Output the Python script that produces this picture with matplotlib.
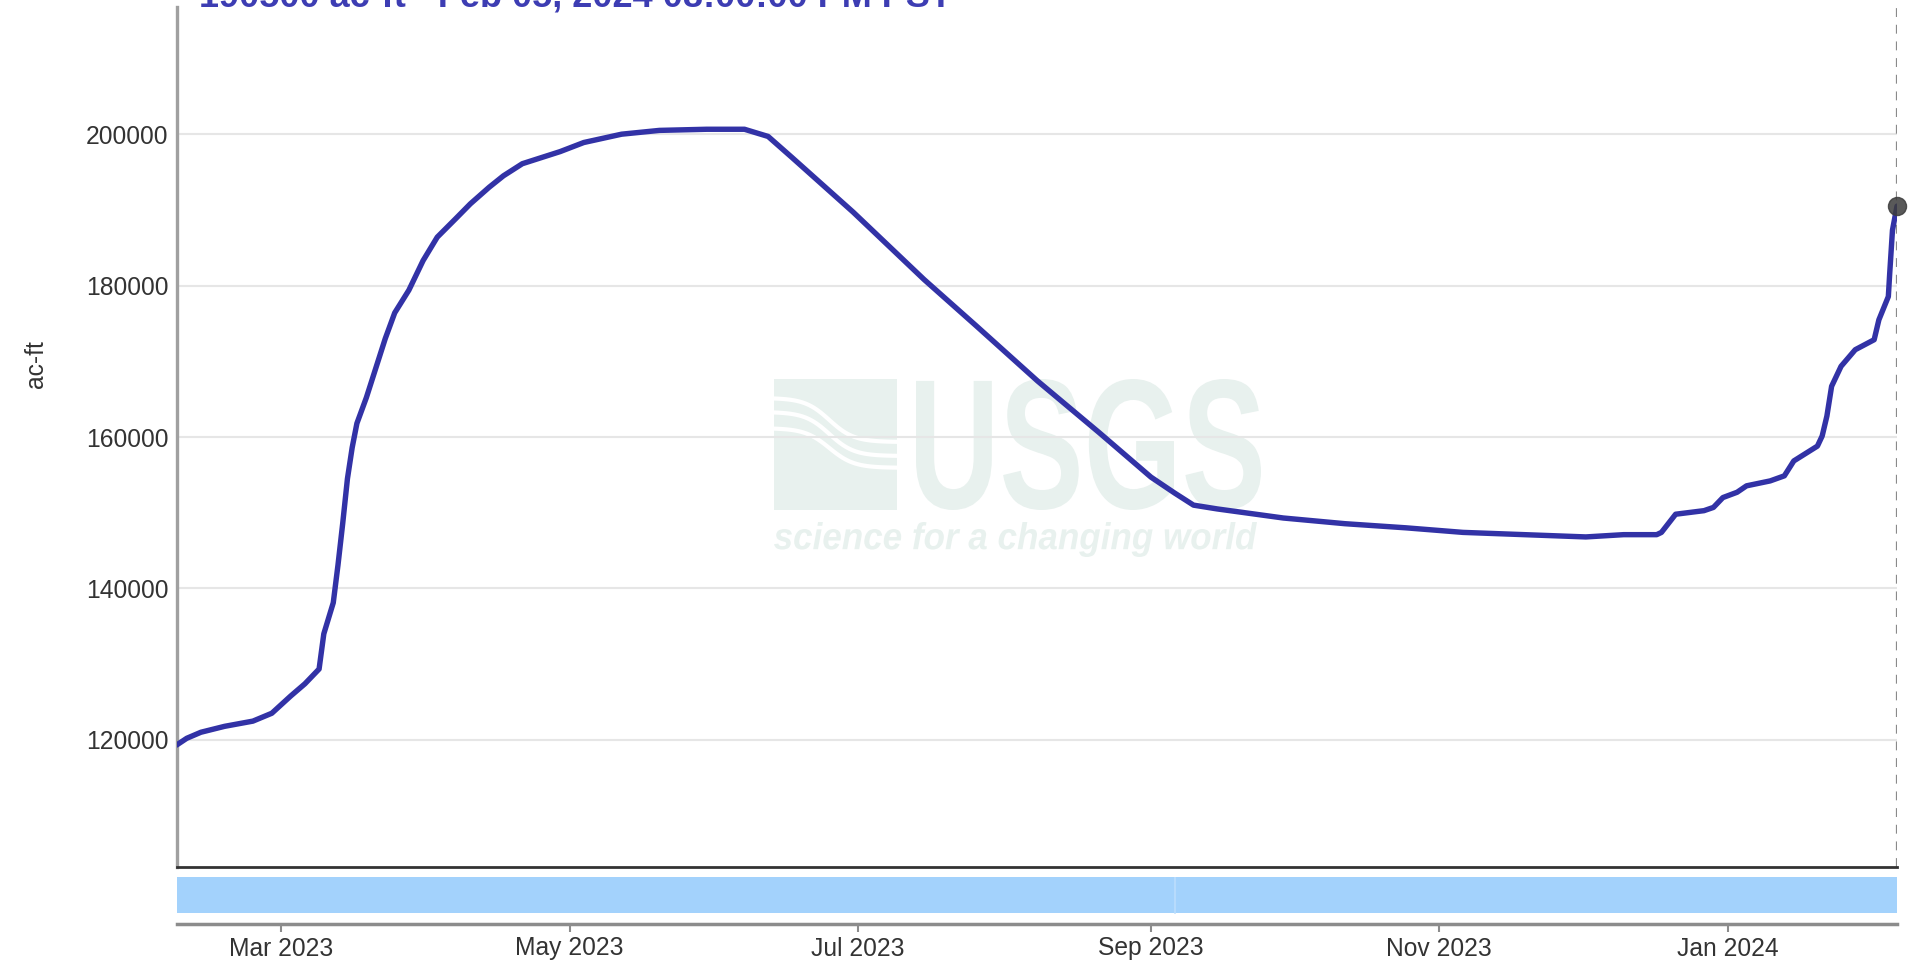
import matplotlib
matplotlib.use('Agg')
import matplotlib.pyplot as plt
import matplotlib.dates as mdates
import numpy as np
import pandas as pd
from matplotlib.textpath import TextPath
from matplotlib.patches import PathPatch, Rectangle
from matplotlib.font_manager import FontProperties
from matplotlib.transforms import Affine2D
from matplotlib.lines import Line2D

plt.rcParams['font.family'] = ['Liberation Sans', 'DejaVu Sans']

# ---------------- data ----------------
dates = [
    "2023-02-06 20:00", "2023-02-09", "2023-02-12", "2023-02-17", "2023-02-23", "2023-02-27",
    "2023-03-03", "2023-03-06", "2023-03-09", "2023-03-10", "2023-03-12", "2023-03-13",
    "2023-03-14", "2023-03-15", "2023-03-16", "2023-03-17", "2023-03-19", "2023-03-21",
    "2023-03-23", "2023-03-25", "2023-03-28", "2023-03-31", "2023-04-03", "2023-04-07",
    "2023-04-10", "2023-04-14", "2023-04-17", "2023-04-21", "2023-04-29", "2023-05-04",
    "2023-05-12", "2023-05-20", "2023-05-30", "2023-06-07", "2023-06-12", "2023-06-17",
    "2023-06-30", "2023-07-15", "2023-07-26", "2023-08-08", "2023-08-21", "2023-09-01",
    "2023-09-06", "2023-09-10", "2023-09-15", "2023-09-29", "2023-10-12", "2023-10-25",
    "2023-11-06", "2023-11-19", "2023-12-02", "2023-12-10", "2023-12-17", "2023-12-18",
    "2023-12-21", "2023-12-27", "2023-12-29", "2023-12-31", "2024-01-03", "2024-01-05",
    "2024-01-10", "2024-01-13", "2024-01-15", "2024-01-20", "2024-01-21", "2024-01-22",
    "2024-01-23", "2024-01-25", "2024-01-28", "2024-02-01", "2024-02-02", "2024-02-04 00:00",
    "2024-02-04 07:00", "2024-02-04 21:00", "2024-02-05 20:00",
]
storage_acft = [
    119300, 120200, 121000, 121780, 122470, 123510,
    125790, 127400, 129350, 134000, 138110, 143100,
    148600, 154500, 158600, 161800, 165200, 169100,
    173000, 176400, 179400, 183300, 186400, 188900,
    190800, 193000, 194500, 196100, 197700, 198900,
    200000, 200500, 200650, 200650, 199700, 196950,
    189700, 180800, 174700, 167400, 160600, 154700,
    152600, 151000, 150500, 149300, 148550, 148000,
    147400, 147100, 146800, 147100, 147100, 147400,
    149800, 150270, 150700, 152000, 152700, 153550,
    154200, 154870, 156840, 158800, 160130, 162760,
    166700, 169340, 171530, 172850, 175480, 178550,
    181620, 187320, 190500,
]
y_ticks = [120000, 140000, 160000, 180000, 200000]
y_range = (103200, 216800)
x_range = ("2023-02-06 20:00", "2024-02-05 20:00")
nav_split = "2023-09-06"
title_text = "190500 ac-ft - Feb 05, 2024 08:00:00 PM PST"
y_label = "ac-ft"

dt = pd.to_datetime(dates, format='mixed')
xr = pd.to_datetime(list(x_range), format='mixed')

# ---------------- figure ----------------
W, H = 1909, 965
fig = plt.figure(figsize=(W / 100, H / 100), dpi=100)
fig.patch.set_facecolor('white')


def fx(px):
    return px / W


def fy(py):
    return 1 - py / H


L, R = 176.5, 1897
ax = fig.add_axes([fx(L), fy(867), fx(R) - fx(L), fy(7) - fy(867)])
ax.patch.set_alpha(0)

# --------------- watermark (decorative) ---------------
wm = '#e8f1ee'


def fit_text(s, prop, x0, x1, ytop, ybot, color):
    tp = TextPath((0, 0), s, size=100, prop=prop)
    bb = tp.get_extents()
    sx = (x1 - x0) / bb.width
    sy = (ybot - ytop) / bb.height
    tr = Affine2D().translate(-bb.x0, -bb.y0).scale(sx, sy).translate(x0, H - ybot)
    p = PathPatch(tr.transform_path(tp), facecolor=color, edgecolor='none', zorder=-5,
                  transform=None)
    fig.add_artist(p)


fit_text("USGS", FontProperties(family='Liberation Sans', weight='bold'), 916, 1261, 379, 510, wm)
fit_text("science for a changing world",
         FontProperties(family='Liberation Sans', weight='bold', style='italic'),
         774, 1257, 522, 557, wm)
logo = Rectangle((774, H - 510), 123, 131, facecolor=wm, edgecolor='none', zorder=-5,
                 transform=None)
fig.add_artist(logo)
tt = np.linspace(0, 1, 60)
for off, amp in [(0, 1.0), (14, 1.0), (28, 0.9)]:
    xs = 774 + 123 * tt
    ys = (H - 420 - off) + 22 * amp * np.tanh((tt - 0.45) * 5) * -1
    fig.add_artist(Line2D(xs, ys, color='white', lw=3, transform=None, zorder=-4))

# ---------------- main plot ----------------
ax.plot(dt, storage_acft, color='#3232a6', lw=3.9, solid_joinstyle='round',
        solid_capstyle='round', zorder=3)
ax.plot(dt[-1:], storage_acft[-1:], marker='o', ms=13, color='#3c3c3c', alpha=0.85,
        ls='none', zorder=4, clip_on=False)
ax.axvline(dt[-1], color='#8a8a8a', lw=1.6, ls=(0, (4, 3.5)), zorder=2)

ax.set_xlim(xr[0], xr[1])
ax.set_ylim(*y_range)
ax.set_yticks(y_ticks)
ax.set_yticklabels([str(v) for v in y_ticks])
ax.yaxis.grid(True, color='#e6e6e6', lw=1.5)
ax.set_axisbelow(True)
ax.tick_params(axis='y', length=0, labelsize=17.7, labelcolor='#333333', pad=6)
ax.tick_params(axis='x', bottom=False, labelbottom=False)
for s in ['top', 'right']:
    ax.spines[s].set_visible(False)
ax.spines['left'].set_color('#a0a0a0')
ax.spines['left'].set_linewidth(2.4)
ax.spines['bottom'].set_color('#333333')
ax.spines['bottom'].set_linewidth(2.0)

fig.text(fx(36), fy(364), y_label, rotation=90, ha='center', va='center',
         fontsize=17.7, color='#333333')

fig.text(fx(199), fy(6), title_text, ha='left', va='baseline', fontsize=26,
         fontweight='bold', color='#3d3db3')

# ---------------- navigator ----------------
nav = fig.add_axes([fx(L), fy(924), fx(R) - fx(L), fy(877) - fy(924)])
nav.set_xlim(xr[0], xr[1])
nav.set_ylim(0, 1)
band_lo = (924 - 913) / 47
nav.axhspan(band_lo, 1, color='#a3d2fc', lw=0)
nav.plot([pd.Timestamp(nav_split)] * 2, [band_lo, 1], color='#bcdefc', lw=1.2)
nav.set_yticks([])
for s in ['top', 'right', 'left']:
    nav.spines[s].set_visible(False)
nav.spines['bottom'].set_color('#8c8c8c')
nav.spines['bottom'].set_linewidth(2.5)
nav.xaxis.set_major_locator(mdates.MonthLocator(bymonth=[1, 3, 5, 7, 9, 11]))
nav.xaxis.set_major_formatter(mdates.DateFormatter('%b %Y'))
nav.tick_params(axis='x', length=6, width=1.5, color='#8c8c8c', labelsize=17.7,
                labelcolor='#333333', pad=3)

fig.savefig('out.png', dpi=100, facecolor='white')
